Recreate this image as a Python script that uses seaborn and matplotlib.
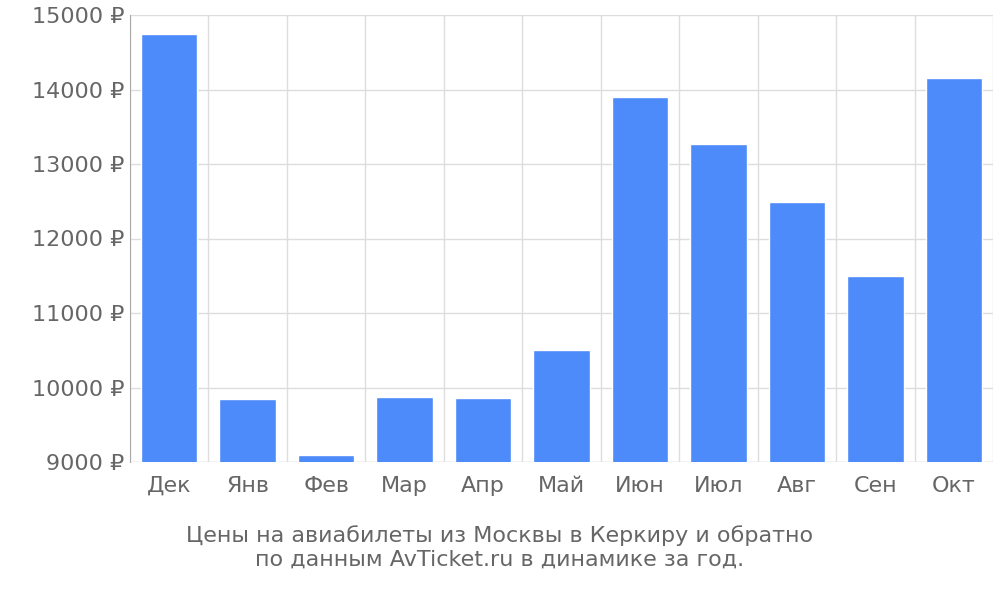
import seaborn as sns
import matplotlib.pyplot as plt
import pandas as pd
import numpy as np

months = ["Дек", "Янв", "Фев", "Мар", "Апр", "Май", "Июн", "Июл", "Авг", "Сен", "Окт"]
prices = [14740, 9845, 9094, 9872, 9859, 10503, 13899, 13268, 12489, 11496, 14153]
y_ticks = [9000, 10000, 11000, 12000, 13000, 14000, 15000]

sns.set_style("white")
plt.rcParams['font.family'] = ['DejaVu Sans']

df = pd.DataFrame({"month": months, "price": prices})
fig = plt.figure(figsize=(10, 6), dpi=100)
ax = fig.add_axes([0.13, 0.23, 0.863, 0.745])

sns.barplot(data=df, x="month", y="price", color="#4d8afa", saturation=1, width=0.72, ax=ax, zorder=3)

ax.set_ylim(9000, 15000)
ax.set_xlim(-0.5, len(months) - 0.5)
ax.set_yticks(y_ticks)
ax.set_yticklabels([f"{v} ₽" for v in y_ticks])
ax.set_xticks(np.arange(-0.5, len(months)), minor=True)
ax.grid(True, axis="y", color="#dddddd", lw=1, zorder=0)
ax.grid(True, axis="x", which="minor", color="#dddddd", lw=1, zorder=0)
ax.tick_params(axis="x", which="major", length=0, pad=10, labelsize=16, labelcolor="#666666")
ax.tick_params(axis="x", which="minor", length=18, color="#dddddd")
ax.tick_params(axis="y", length=0, pad=4, labelsize=16, labelcolor="#666666")
for s in ["top", "right", "bottom"]:
    ax.spines[s].set_visible(False)
ax.spines["left"].set_color("#aaaaaa")
ax.axhline(9000, color="#dddddd", lw=1, zorder=2)
ax.set_xlabel("")
ax.set_ylabel("")

fig.text(0.5, 0.088, "Цены на авиабилеты из Москвы в Керкиру и обратно\nпо данным AvTicket.ru в динамике за год.",
         ha="center", va="center", fontsize=16, color="#666666", linespacing=1.2)

fig.savefig("out.png", dpi=100)
